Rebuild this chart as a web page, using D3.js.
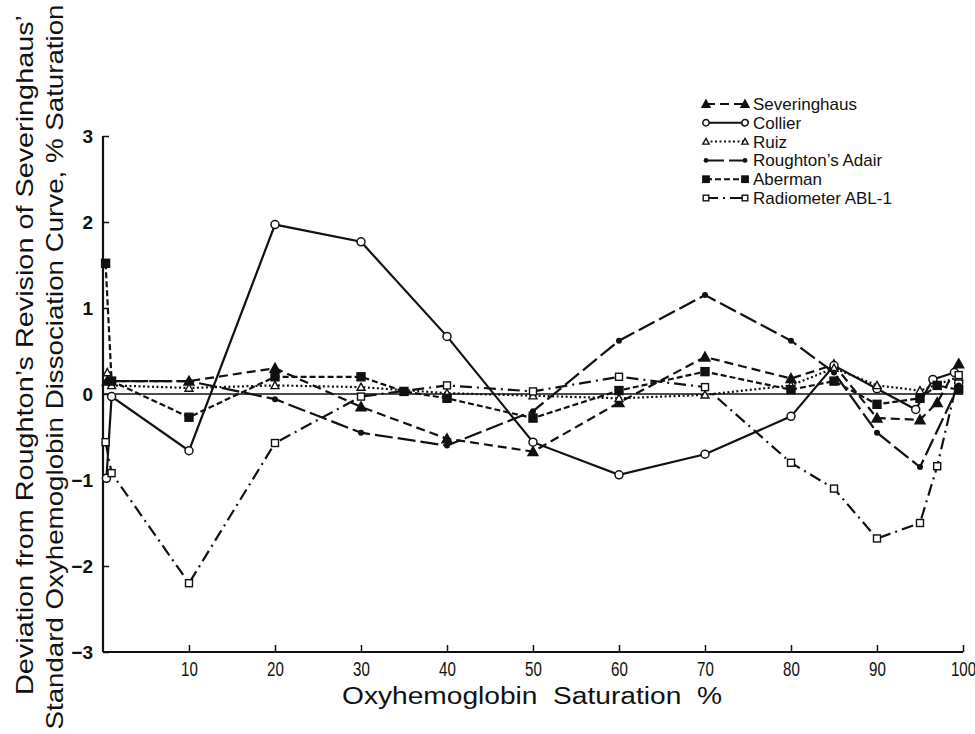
<!DOCTYPE html>
<html>
<head>
<meta charset="utf-8">
<script src="https://cdn.jsdelivr.net/npm/d3@7"></script>
<style>
  body { margin: 0; background: #fff; }
  text { font-family: "Liberation Sans", Arial, sans-serif; fill: #111; }
</style>
</head>
<body>
<div id="chart"></div>
<script>
// saturation (%) and deviation (% saturation) per method
const severX = [0.5, 10, 20, 30, 40, 50, 60, 70, 80, 85, 90, 95, 97, 99.5];
const severY = [0.15, 0.15, 0.3, -0.15, -0.52, -0.67, -0.1, 0.43, 0.18, 0.34, -0.28, -0.3, -0.1, 0.35];

const collierX = [0.4, 1, 10, 20, 30, 40, 50, 60, 70, 80, 85, 90, 94.5, 96.5, 99, 99.5];
const collierY = [-0.98, -0.03, -0.66, 1.97, 1.77, 0.67, -0.56, -0.94, -0.7, -0.26, 0.33, 0.06, -0.18, 0.17, 0.25, 0.13];

const ruizX = [0.5, 1, 10, 20, 30, 40, 50, 60, 70, 80, 85, 90, 95, 99.5];
const ruizY = [0.25, 0.1, 0.07, 0.1, 0.08, 0.01, -0.02, -0.05, -0.01, 0.1, 0.3, 0.1, 0.04, 0.2];

const adairX = [0.5, 10, 20, 30, 40, 50, 60, 70, 80, 85, 90, 95, 99.5];
const adairY = [0.15, 0.15, -0.06, -0.45, -0.6, -0.2, 0.62, 1.15, 0.62, 0.25, -0.45, -0.85, 0.1];

const abermanX = [0.3, 1, 10, 20, 30, 35, 40, 50, 60, 70, 80, 85, 90, 95, 97, 99.5];
const abermanY = [1.52, 0.15, -0.27, 0.2, 0.2, 0.03, -0.05, -0.28, 0.04, 0.26, 0.05, 0.15, -0.12, -0.05, 0.1, 0.05];

const ablX = [0.3, 1, 10, 20, 30, 40, 50, 60, 70, 80, 85, 90, 95, 97, 99.5];
const ablY = [-0.56, -0.92, -2.2, -0.57, -0.03, 0.1, 0.03, 0.2, 0.08, -0.8, -1.1, -1.68, -1.5, -0.84, 0.22];

const seriesNames = ["Severinghaus", "Collier", "Ruiz", "Roughton\u2019s Adair", "Aberman", "Radiometer ABL-1"];
const xTicks = [10, 20, 30, 40, 50, 60, 70, 80, 90, 100];
const yTicks = [-3, -2, -1, 0, 1, 2, 3];

class Chart {
  constructor() {
    this.width = 975;
    this.height = 734;
    this.x = d3.scaleLinear().domain([0, 100]).range([103, 963]);
    this.y = d3.scaleLinear().domain([-3, 3]).range([652, 136]);

    this.series = [
      { name: seriesNames[0], xs: severX, ys: severY, dash: "9,5", marker: "tri", fill: true },
      { name: seriesNames[1], xs: collierX, ys: collierY, dash: null, marker: "circle", fill: false },
      { name: seriesNames[2], xs: ruizX, ys: ruizY, dash: "2,2.5", marker: "tri", fill: false, small: true },
      { name: seriesNames[3], xs: adairX, ys: adairY, dash: "18,5", marker: "dot", fill: true },
      { name: seriesNames[4], xs: abermanX, ys: abermanY, dash: "6,3", marker: "square", fill: true },
      { name: seriesNames[5], xs: ablX, ys: ablY, dash: "12,5,2,5", marker: "square", fill: false }
    ];
    this.drawPlot();
  }

  drawPlot() {
    this.svg = d3.select("#chart").append("svg")
      .attr("width", this.width).attr("height", this.height);
    this.svg.append("rect").attr("width", this.width).attr("height", this.height).attr("fill", "#fff");

    this.drawAxes();
    this.svg.append("line")
      .attr("x1", this.x(0)).attr("x2", this.x(100))
      .attr("y1", this.y(0)).attr("y2", this.y(0))
      .attr("stroke", "#111").attr("stroke-width", 1.3);

    this.series.forEach(s => this.drawSeries(s));
    this.drawLegend();
  }

  drawAxes() {
    let yAxis = d3.axisLeft(this.y).tickValues(yTicks).tickSize(-6).tickPadding(10)
      .tickFormat(d3.format("d"));
    let gy = this.svg.append("g").attr("transform", "translate(" + this.x(0) + ",0)").call(yAxis);
    gy.select(".domain").attr("stroke", "#111").attr("stroke-width", 2.2).attr("d", "M0," + this.y(3) + "V" + this.y(-3));
    gy.selectAll(".tick line").attr("stroke", "#111").attr("stroke-width", 1.5);
    gy.selectAll(".tick text").attr("font-size", 19).attr("font-weight", "bold")
      .attr("font-family", "'Liberation Sans', Arial, sans-serif").attr("fill", "#111");

    let xAxis = d3.axisBottom(this.x).tickValues(xTicks).tickSize(-7).tickPadding(9);
    let gx = this.svg.append("g").attr("transform", "translate(0," + this.y(-3) + ")").call(xAxis);
    gx.select(".domain").attr("stroke", "#111").attr("stroke-width", 2.2).attr("d", "M" + this.x(0) + ",0H" + this.x(100));
    gx.selectAll(".tick line").attr("stroke", "#111").attr("stroke-width", 1.5);
    // narrow typeface look of the original
    gx.selectAll(".tick text").attr("font-size", 21).attr("fill", "#111")
      .attr("font-family", "'Liberation Sans', Arial, sans-serif")
      .attr("transform", "scale(0.72,1)");

    this.svg.append("text")
      .attr("x", 532).attr("y", 704).attr("text-anchor", "middle")
      .attr("font-size", 23)
      .attr("textLength", 380).attr("lengthAdjust", "spacingAndGlyphs")
      .attr("xml:space", "preserve")
      .text("Oxyhemoglobin  Saturation  %");

    this.svg.append("text")
      .attr("transform", "translate(33,355) rotate(-90)")
      .attr("text-anchor", "middle").attr("font-size", 24)
      .attr("textLength", 680).attr("lengthAdjust", "spacingAndGlyphs")
      .text("Deviation from Roughton\u2019s Revision of Severinghaus\u2019");
    this.svg.append("text")
      .attr("transform", "translate(63,367) rotate(-90)")
      .attr("text-anchor", "middle").attr("font-size", 24)
      .attr("textLength", 725).attr("lengthAdjust", "spacingAndGlyphs")
      .text("Standard Oxyhemoglobin Dissociation Curve, % Saturation");
  }

  drawMarker(g, s, cx, cy, k) {
    k = k || 1;
    let fill = s.fill ? "#111" : "#fff";
    if (s.marker == "circle") {
      g.append("circle").attr("cx", cx).attr("cy", cy).attr("r", 4 * k)
        .attr("fill", fill).attr("stroke", "#111").attr("stroke-width", 1.5);
    } else if (s.marker == "dot") {
      g.append("circle").attr("cx", cx).attr("cy", cy).attr("r", 3 * k).attr("fill", "#111");
    } else if (s.marker == "square") {
      let h = (s.fill ? 4 : 3.5) * k;
      g.append("rect").attr("x", cx - h).attr("y", cy - h).attr("width", 2 * h).attr("height", 2 * h)
        .attr("fill", fill).attr("stroke", "#111").attr("stroke-width", 1.4);
    } else {
      let h = (s.small ? 4 : 5) * k;
      g.append("path")
        .attr("d", "M" + cx + "," + (cy - h) + "L" + (cx + h) + "," + (cy + h * 0.8) + "L" + (cx - h) + "," + (cy + h * 0.8) + "Z")
        .attr("fill", fill).attr("stroke", "#111").attr("stroke-width", 1.4);
    }
  }

  drawSeries(s) {
    let pts = s.xs.map((v, i) => [v, s.ys[i]]);
    let line = d3.line().x(d => this.x(d[0])).y(d => this.y(d[1]));
    let g = this.svg.append("g").classed("series", true);
    g.append("path").datum(pts).attr("d", line)
      .attr("fill", "none").attr("stroke", "#111").attr("stroke-width", 2.2)
      .attr("stroke-dasharray", s.dash);
    pts.forEach(d => this.drawMarker(g, s, this.x(d[0]), this.y(d[1])));
  }

  drawLegend() {
    let lg = this.svg.append("g").attr("transform", "translate(706,104)");
    this.series.forEach((s, i) => {
      let row = lg.append("g").attr("transform", "translate(0," + (i * 18.8) + ")");
      row.append("line").attr("x1", 0).attr("x2", 39).attr("y1", 0).attr("y2", 0)
        .attr("stroke", "#111").attr("stroke-width", 2).attr("stroke-dasharray", s.dash);
      this.drawMarker(row, s, 0, 0, 0.8);
      this.drawMarker(row, s, 39, 0, 0.8);
      row.append("text").attr("x", 47).attr("y", 6).attr("font-size", 17).text(s.name);
    });
  }
}

new Chart();
</script>
</body>
</html>
